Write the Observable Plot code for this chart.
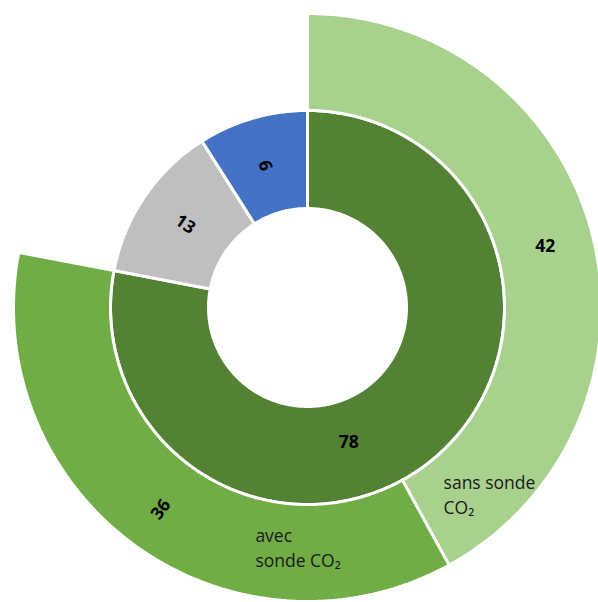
<!DOCTYPE html>
<html>
<head>
<meta charset="utf-8">
<script src="https://cdn.jsdelivr.net/npm/d3@7"></script>
<script src="https://cdn.jsdelivr.net/npm/@observablehq/plot@0.6"></script>
<style>
  html, body { margin: 0; padding: 0; background: #ffffff; }
  #chart svg { display: block; }
</style>
</head>
<body>
<div id="chart"></div>
<script>
// ---- Data ----
const innerCategories = ["groupe vert", "groupe gris", "groupe bleu"];
const innerValues = [78, 13, 9];
const outerCategories = ["sans sonde CO₂", "avec sonde CO₂"];
const outerValues = [42, 36];          // split of the first inner category
const outerLabels = ["sans sonde\nCO₂", "avec\nsonde CO₂"];

// ---- Layout (pixels, used only through the x/y scales) ----
const W = 598, H = 602;
const CX = 307, CY = 307;
const R_HOLE = 99, R_INNER = 197, R_OUTER = 294;

const total = d3.sum(innerValues);
const toDeg = v => v / total * 360;
const pt = (aDeg, r) => {
  const a = aDeg * Math.PI / 180;
  return {x: r * Math.sin(a), y: -r * Math.cos(a)};
};

function arcPolygon(key, a0, a1, r0, r1) {
  const n = Math.max(8, Math.ceil((a1 - a0) / 1));
  const pts = [];
  for (let i = 0; i <= n; i++) pts.push({key, ...pt(a0 + (a1 - a0) * i / n, r1)});
  for (let i = n; i >= 0; i--) pts.push({key, ...pt(a0 + (a1 - a0) * i / n, r0)});
  return pts;
}

const polys = [];
const valueLabels = [];

// inner ring
let acc = 0;
innerCategories.forEach((c, i) => {
  const a0 = toDeg(acc), a1 = toDeg(acc + innerValues[i]);
  acc += innerValues[i];
  polys.push(...arcPolygon(c, a0, a1, R_HOLE, R_INNER));
  let mid = (a0 + a1) / 2, r = (R_HOLE + R_INNER) / 2;
  let rot = mid > 180 ? mid - 270 : 0;
  if (mid > 330) rot = mid - 450;
  if (i === 0) { mid = 163; r = 141; rot = 0; }
  valueLabels.push({...pt(mid, r), text: String(innerValues[i]), rotate: rot});
});

// outer ring (children of the first inner category)
acc = 0;
const catLabels = [];
const catPlacement = [{a: 143.8, r: 230.4}, {a: 192.3, r: 244.6}];
outerCategories.forEach((c, i) => {
  const a0 = toDeg(acc), a1 = toDeg(acc + outerValues[i]);
  acc += outerValues[i];
  polys.push(...arcPolygon(c, a0, a1, R_INNER, R_OUTER));
  const mid = (a0 + a1) / 2, r = (R_INNER + R_OUTER) / 2 + (i === 1 ? 4 : 0);
  const rot = mid > 180 ? mid - 270 : 0;
  valueLabels.push({...pt(mid, r), text: String(outerValues[i]), rotate: rot});
  catLabels.push({...pt(catPlacement[i].a, catPlacement[i].r), text: outerLabels[i]});
});

const chart = Plot.plot({
  width: W,
  height: H,
  margin: 0,
  style: {background: "#ffffff", overflow: "hidden"},
  x: {domain: [-CX, W - CX], range: [0, W], axis: null},
  y: {domain: [-CY, H - CY], range: [0, H], axis: null},
  color: {
    domain: [...innerCategories, ...outerCategories],
    range: ["#548235", "#BFBFBF", "#4472C4", "#A9D18E", "#70AD47"]
  },
  marks: [
    Plot.line(polys, {
      x: "x", y: "y", z: "key", fill: "key",
      stroke: "#ffffff", strokeWidth: 3, strokeLinejoin: "miter",
      curve: "linear-closed"
    }),
    Plot.text(valueLabels, {
      x: "x", y: "y", text: "text", rotate: "rotate",
      fontSize: 17.5, fontWeight: "bold", fill: "#000000",
      fontFamily: "'Open Sans', sans-serif"
    }),
    Plot.text(catLabels, {
      x: "x", y: "y", text: "text", textAnchor: "start",
      lineHeight: 1.45, fontSize: 17.5, fill: "#1a1a1a",
      fontFamily: "'Open Sans', sans-serif"
    })
  ]
});
document.getElementById("chart").appendChild(chart);
</script>
</body>
</html>
